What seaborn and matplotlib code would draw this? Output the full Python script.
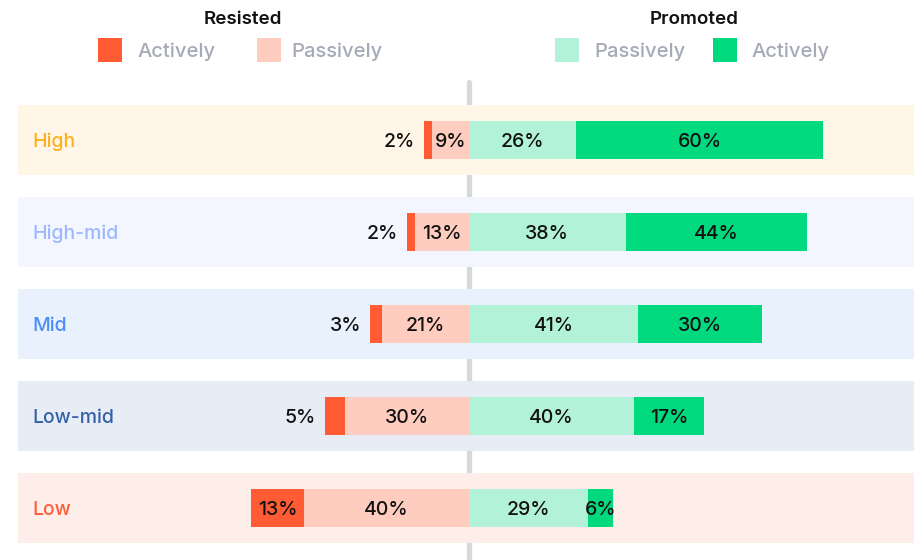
import matplotlib
matplotlib.use("Agg")
import matplotlib.pyplot as plt
from matplotlib.patches import Rectangle
import seaborn as sns
import pandas as pd

# ---- data ----
categories = ["High", "High-mid", "Mid", "Low-mid", "Low"]
resisted_actively = [2, 2, 3, 5, 13]
resisted_passively = [9, 13, 21, 30, 40]
promoted_passively = [26, 38, 41, 40, 29]
promoted_actively = [60, 44, 30, 17, 6]

cat_colors = ["#FFB020", "#9DB8FF", "#4B8EF7", "#3461A8", "#FF5C39"]
band_colors = ["#FFF6E8", "#F3F6FE", "#E9F1FD", "#E8EDF5", "#FEEEE9"]
c_ract = "#FF5C35"
c_rpas = "#FFCCC0"
c_ppas = "#B2F2D8"
c_pact = "#00D97E"

W, H = 914, 560
sns.set_theme(style="white")
plt.rcParams["font.family"] = ["Inter", "DejaVu Sans"]

fig = plt.figure(figsize=(W / 100, H / 100), dpi=100)
ax = fig.add_axes([0, 0, 1, 1])

df = pd.DataFrame({
    "cat": categories,
    "ract": resisted_actively,
    "rpas": resisted_passively,
    "ppas": promoted_passively,
    "pact": promoted_actively,
})
df["left_total"] = -(df["ract"] + df["rpas"])
df["left_pas"] = -df["rpas"]
df["right_total"] = df["ppas"] + df["pact"]
df["right_pas"] = df["ppas"]

s = 4.12  # px per percent
x0 = 469
xmin, xmax = -x0 / s, (W - x0) / s
row0, step = 140, 92
ymin_d, ymax_d = -row0 / step, (H - row0) / step

bar_h = 38 / step
band_h = 70 / step
dy = 2 / step  # small downward nudge for text

# background bands
band_left = (18 - x0) / s
for i, c in enumerate(band_colors):
    ax.barh(i, xmax - band_left + 5, left=band_left, height=band_h,
            color=c, linewidth=0, zorder=1)

# centre line
ax.plot([0, 0], [(82 - row0) / step, ymax_d + 0.1], color="#D6D8DE",
        linewidth=3.8, solid_capstyle="round", zorder=0.5)

common = dict(y="cat", order=categories, orient="h", width=bar_h,
              saturation=1, errorbar=None, linewidth=0, ax=ax, zorder=2)
sns.barplot(data=df, x="left_total", color=c_ract, **common)
sns.barplot(data=df, x="left_pas", color=c_rpas, **common)
sns.barplot(data=df, x="right_total", color=c_pact, **common)
sns.barplot(data=df, x="right_pas", color=c_ppas, **common)

fs = 14
tkw = dict(va="center", fontsize=fs, color="#111111", zorder=5,
           fontweight="medium")
# value labels
for i in range(len(categories)):
    ra, rp, pp, pa = (resisted_actively[i], resisted_passively[i],
                      promoted_passively[i], promoted_actively[i])
    y = i + dy
    if ra < 6:
        ax.text(-(rp + ra) - 9 / s, y, f"{ra}%", ha="right", **tkw)
    else:
        ax.text(-(rp + ra / 2), y, f"{ra}%", ha="center", **tkw)
    ax.text(-rp / 2, y, f"{rp}%", ha="center", **tkw)
    ax.text(pp / 2, y, f"{pp}%", ha="center", **tkw)
    ax.text(pp + pa / 2, y, f"{pa}%", ha="center", **tkw)
    ax.text((32 - x0) / s, y, categories[i], ha="left", va="center",
            fontsize=14, color=cat_colors[i], zorder=5, fontweight="medium")

ax.set_xlim(xmin, xmax)
ax.set_ylim(ymax_d, ymin_d)
ax.axis("off")

# legend (figure pixel coordinates)
def fx(px):
    return px / W

def fy(py):
    return 1 - py / H

fig.text(fx(243), fy(19), "Resisted", ha="center", va="center",
         fontsize=13.5, fontweight="semibold", color="#111111")
fig.text(fx(694), fy(19), "Promoted", ha="center", va="center",
         fontsize=13.5, fontweight="semibold", color="#111111")

legend_items = [
    (98, c_ract, 137, "Actively"),
    (257, c_rpas, 291, "Passively"),
    (555, c_ppas, 594, "Passively"),
    (713, c_pact, 751, "Actively"),
]
for sx, col, tx, lab in legend_items:
    fig.patches.append(Rectangle((fx(sx), fy(62)), 24 / W, 24 / H,
                                 transform=fig.transFigure, color=col,
                                 linewidth=0))
    fig.text(fx(tx), fy(52), lab, ha="left", va="center", fontsize=14.5,
             color="#A5AAB6", fontweight="medium")

fig.savefig("out.png", dpi=100)
